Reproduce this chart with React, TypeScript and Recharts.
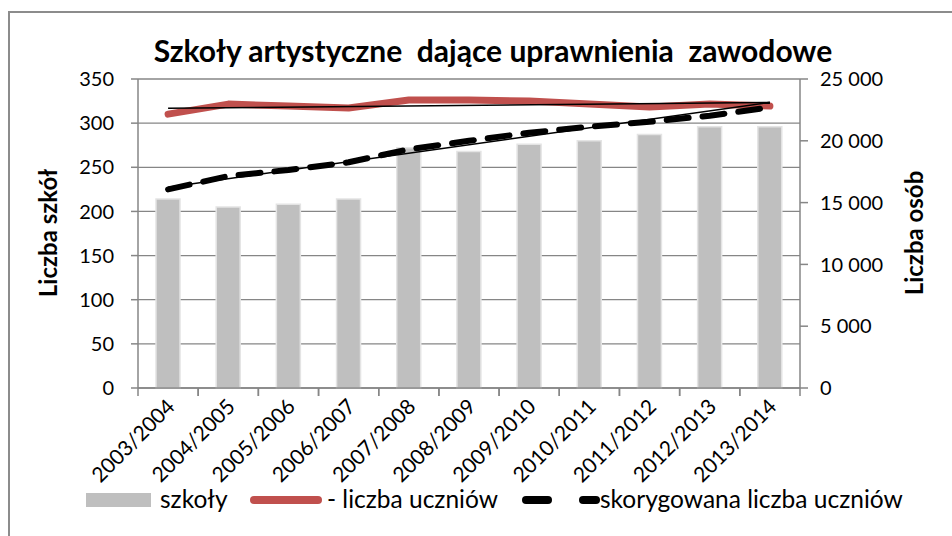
import React from 'react';
import { ComposedChart, Bar, Line, XAxis, YAxis, CartesianGrid } from 'recharts';

const categories = ['2003/2004', '2004/2005', '2005/2006', '2006/2007', '2007/2008', '2008/2009', '2009/2010', '2010/2011', '2011/2012', '2012/2013', '2013/2014'];
const schools = [214, 205, 208, 214, 272, 268, 276, 280, 287, 296, 296];
const students = [22160, 22970, 22810, 22650, 23300, 23300, 23220, 22970, 22730, 22970, 22810];
const adjustedStudents = [16070, 17150, 17640, 18260, 19310, 20000, 20650, 21140, 21540, 22030, 22700];
const studentsTrendEnds = [22630, 23100];
const adjustedTrendEnds = [16250, 23110];
const leftTicks = [0, 50, 100, 150, 200, 250, 300, 350];
const rightTicks = [0, 5000, 10000, 15000, 20000, 25000];

const last = categories.length - 1;
const data = categories.map((c, i) => ({
  cat: c,
  schools: schools[i],
  students: students[i],
  adjusted: adjustedStudents[i],
  trendS: i === 0 ? studentsTrendEnds[0] : i === last ? studentsTrendEnds[1] : null,
  trendA: i === 0 ? adjustedTrendEnds[0] : i === last ? adjustedTrendEnds[1] : null,
}));

const FONT = 'Lato, "Open Sans", sans-serif';
const GRID = '#868686';
const PLOT_L = 138;
const PLOT_R = 800;
const HALF = (PLOT_R - PLOT_L) / categories.length / 2;

const fmt = (v: number) => String(v).replace(/\B(?=(\d{3})+(?!\d))/g, ' ');

const XTick = (props: any) => {
  const { x, y, payload } = props;
  const tx = x + 8;
  const ty = y + 20;
  return (
    <g>
      <line x1={x - HALF} x2={x - HALF} y1={y} y2={y + 8} stroke={GRID} strokeWidth={1.5} />
      <line x1={x + HALF} x2={x + HALF} y1={y} y2={y + 8} stroke={GRID} strokeWidth={1.5} />
      <text x={tx} y={ty} textAnchor="end" transform={`rotate(-45, ${tx}, ${ty})`} fontSize={21} fontFamily={FONT} fill="#000">
        {payload.value}
      </text>
    </g>
  );
};

export default function App() {
  return (
    <div style={{ position: 'absolute', left: 0, top: 0, width: 952, height: 536, background: '#fff', overflow: 'hidden' }}>
      <ComposedChart width={952} height={536} data={data} margin={{ top: 79, right: 52, bottom: 58, left: 58 }}>
        <CartesianGrid yAxisId="left" vertical={false} stroke={GRID} strokeWidth={1.3} />
        <XAxis
          dataKey="cat"
          interval={0}
          tickLine={false}
          tickSize={0}
          tickMargin={0}
          height={90}
          axisLine={{ stroke: GRID, strokeWidth: 1.5 }}
          tick={<XTick />}
        />
        <YAxis
          yAxisId="left"
          width={80}
          domain={[0, 350]}
          ticks={leftTicks}
          tickSize={7}
          tickMargin={17}
          axisLine={{ stroke: GRID, strokeWidth: 1.5 }}
          tickLine={{ stroke: GRID, strokeWidth: 1.5 }}
          tick={{ fill: '#000', fontSize: 20, fontFamily: FONT }}
        />
        <YAxis
          yAxisId="right"
          orientation="right"
          width={100}
          domain={[0, 25000]}
          ticks={rightTicks}
          tickSize={8}
          tickMargin={12}
          tickFormatter={fmt}
          axisLine={{ stroke: GRID, strokeWidth: 1.5 }}
          tickLine={{ stroke: GRID, strokeWidth: 1.5 }}
          tick={{ fill: '#000', fontSize: 20, fontFamily: FONT, textAnchor: 'start' }}
        />
        <Bar yAxisId="left" dataKey="schools" fill="#bfbfbf" barSize={24} stroke="#e4e4e4" strokeWidth={1.5} isAnimationActive={false} />
        <Line yAxisId="right" dataKey="students" stroke="#c0504d" strokeWidth={7} strokeLinecap="round" strokeLinejoin="round" dot={false} activeDot={false} isAnimationActive={false} />
        <Line yAxisId="right" dataKey="adjusted" stroke="#000" strokeWidth={6} strokeDasharray="22 14" strokeLinecap="round" strokeLinejoin="round" dot={false} activeDot={false} isAnimationActive={false} />
        <Line yAxisId="right" dataKey="trendS" stroke="#000" strokeWidth={1.5} connectNulls dot={false} activeDot={false} isAnimationActive={false} />
        <Line yAxisId="right" dataKey="trendA" stroke="#000" strokeWidth={1.5} connectNulls dot={false} activeDot={false} isAnimationActive={false} />
      </ComposedChart>
      <svg width={952} height={536} style={{ position: 'absolute', left: 0, top: 0, pointerEvents: 'none' }}>
        <rect x={9} y={12} width={1000} height={600} fill="none" stroke="#8c8c8c" strokeWidth={2} />
        <text x={493} y={62} textAnchor="middle" fontSize={30} fontWeight="bold" fontFamily={FONT} fill="#000" style={{ whiteSpace: 'pre' }}>
          {'Szkoły artystyczne  dające uprawnienia  zawodowe'}
        </text>
        <text x={47} y={233} textAnchor="middle" dominantBaseline="central" transform="rotate(-90, 47, 233)" fontSize={24} fontWeight="bold" fontFamily={FONT} fill="#000">
          Liczba szkół
        </text>
        <text x={913} y={233} textAnchor="middle" dominantBaseline="central" transform="rotate(-90, 913, 233)" fontSize={24} fontWeight="bold" fontFamily={FONT} fill="#000">
          Liczba osób
        </text>
        <rect x={86} y={493} width={65} height={14} fill="#bfbfbf" />
        <text x={160} y={508} fontSize={24.5} fontFamily={FONT} fill="#000">szkoły</text>
        <line x1={254} x2={318} y1={500} y2={500} stroke="#c0504d" strokeWidth={8} strokeLinecap="round" />
        <text x={327} y={508} fontSize={24.5} fontFamily={FONT} fill="#000">- liczba uczniów</text>
        <line x1={526} x2={548} y1={500} y2={500} stroke="#000" strokeWidth={8} strokeLinecap="round" />
        <line x1={583} x2={596} y1={500} y2={500} stroke="#000" strokeWidth={8} strokeLinecap="round" />
        <text x={600} y={508} fontSize={24.5} fontFamily={FONT} fill="#000">skorygowana liczba uczniów</text>
      </svg>
    </div>
  );
}
